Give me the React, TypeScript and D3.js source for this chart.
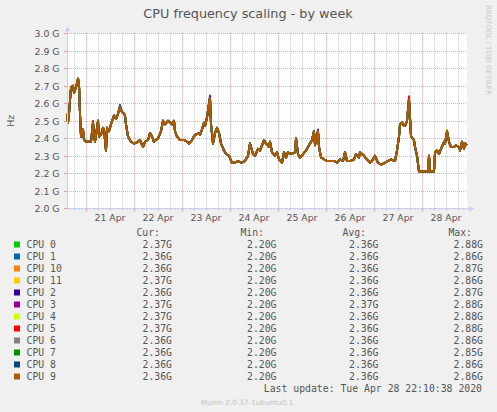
import * as d3 from "d3";

const WIDTH = 497;
const HEIGHT = 412;
const PLOT = { left: 67, top: 33.3, width: 400, height: 175 };

const cpuNames = ["CPU 0", "CPU 1", "CPU 10", "CPU 11", "CPU 2", "CPU 3", "CPU 4", "CPU 5", "CPU 6", "CPU 7", "CPU 8", "CPU 9"];
const cpuColors = ["#00CC00", "#0066B3", "#FF8000", "#FFCC00", "#330099", "#990099", "#CCFF00", "#FF0000", "#808080", "#008F00", "#00487D", "#B35A00"];
const curValues = ["2.37G", "2.36G", "2.36G", "2.37G", "2.36G", "2.37G", "2.37G", "2.37G", "2.36G", "2.36G", "2.36G", "2.36G"];
const minValues = ["2.20G", "2.20G", "2.20G", "2.20G", "2.20G", "2.20G", "2.20G", "2.20G", "2.20G", "2.20G", "2.20G", "2.20G"];
const avgValues = ["2.36G", "2.36G", "2.36G", "2.36G", "2.36G", "2.37G", "2.36G", "2.36G", "2.36G", "2.36G", "2.36G", "2.36G"];
const maxValues = ["2.88G", "2.86G", "2.87G", "2.86G", "2.87G", "2.88G", "2.88G", "2.88G", "2.86G", "2.85G", "2.86G", "2.86G"];

// hours since 21 Apr 00:00, and the shared frequency reading (GHz)
const sampleHours = [
  -9.5, -9, -8.5, -7.5, -6.5, -6, -5, -4, -3.5, -3, -2.5, -1.5, -1, 0, 1.5, 2.5, 3.5, 4, 4.5, 6,
  6.5, 7.5, 8.5, 9, 10, 10.5, 11.5, 12.5, 14, 15, 16, 17, 18, 19, 19.5, 20, 21, 22.5, 24, 26,
  27, 28.5, 29.5, 31, 32, 33, 34, 36, 37.5, 38.5, 39.5, 41, 43, 44, 44.5, 45.5, 47, 49, 50.5, 51.5,
  53, 54.5, 56.5, 57, 58, 59, 59.5, 60.5, 61.5, 62, 62.5, 63.5, 64.5, 65.5, 66.5, 67.5, 69, 70, 71.5, 73,
  74.5, 76, 77.5, 79.5, 81, 82, 83.5, 84.5, 86, 87, 89, 90, 91.5, 92, 93, 94.5, 95.5, 96.5, 98, 99,
  100, 101, 102.5, 104.5, 105, 106, 107, 108.5, 110, 111.5, 113, 114, 114.5, 116, 116.5, 117.5, 119, 120.5, 122, 124,
  125.5, 127, 128.5, 129.5, 130.5, 132, 134, 135, 136.5, 137, 139, 140.5, 142, 143, 144.5, 146, 147.5, 149.5, 151, 152.5,
  154.5, 155.5, 156.5, 157, 158, 159, 159.5, 160.5, 161.5, 162, 162.5, 164, 164.5, 165.5, 166.5, 168, 169.5, 171, 171.5, 172,
  173, 174, 174.5, 175.5, 176.5, 177.5, 179, 179.5, 180.5, 181.5, 182.5, 184, 185, 186.5, 187, 188, 189, 189.5, 190.5,
];
const sampleGHz = [
  2.54, 2.49, 2.54, 2.69, 2.7, 2.66, 2.69, 2.74, 2.71, 2.54, 2.41, 2.45, 2.39, 2.38, 2.38, 2.38, 2.49, 2.43, 2.38, 2.5,
  2.41, 2.42, 2.46, 2.45, 2.33, 2.46, 2.44, 2.48, 2.53, 2.51, 2.54, 2.58, 2.55, 2.54, 2.53, 2.48, 2.41, 2.38, 2.37, 2.38,
  2.39, 2.35, 2.38, 2.39, 2.43, 2.41, 2.38, 2.4, 2.44, 2.5, 2.48, 2.5, 2.48, 2.5, 2.44, 2.41, 2.39, 2.39, 2.38, 2.37,
  2.39, 2.42, 2.43, 2.42, 2.45, 2.49, 2.47, 2.52, 2.6, 2.63, 2.48, 2.37, 2.43, 2.46, 2.43, 2.37, 2.33, 2.31, 2.3, 2.26,
  2.26, 2.27, 2.26, 2.27, 2.3, 2.37, 2.31, 2.3, 2.34, 2.33, 2.39, 2.37, 2.35, 2.38, 2.32, 2.3, 2.32, 2.28, 2.26, 2.32,
  2.29, 2.32, 2.31, 2.32, 2.4, 2.31, 2.29, 2.31, 2.33, 2.36, 2.39, 2.44, 2.36, 2.44, 2.35, 2.29, 2.28, 2.27, 2.27, 2.27,
  2.26, 2.28, 2.27, 2.32, 2.27, 2.27, 2.28, 2.31, 2.29, 2.32, 2.3, 2.28, 2.26, 2.27, 2.3, 2.26, 2.25, 2.26, 2.27, 2.28,
  2.27, 2.33, 2.41, 2.48, 2.49, 2.47, 2.47, 2.5, 2.62, 2.52, 2.41, 2.39, 2.35, 2.3, 2.21, 2.21, 2.21, 2.21, 2.3, 2.21,
  2.21, 2.21, 2.32, 2.33, 2.31, 2.34, 2.38, 2.37, 2.44, 2.38, 2.35, 2.35, 2.36, 2.35, 2.33, 2.38, 2.34, 2.37, 2.36,
];
// a few samples where single cores poke out of the bundle: [cpu index, hour, GHz]
const cpuSpikes: [number, number, number][] = [
  [10, 17, 2.59], [7, 3.5, 2.5], [5, 62, 2.645], [7, 161.5, 2.64], [5, 161.5, 2.635],
  [3, 180.5, 2.45], [5, 116, 2.45], [0, 89, 2.38], [6, 174.5, 2.33],
];

const base = new Date(2020, 3, 21, 0, 0, 0);
const toDate = (h: number) => new Date(base.getTime() + h * 3600 * 1000);
const start = toDate(-9.5);
const end = toDate(190.5);

const xScale = d3.scaleTime().domain([start, end]).range([PLOT.left, PLOT.left + PLOT.width]);
const yScale = d3.scaleLinear().domain([2.0, 3.0]).range([PLOT.top + PLOT.height, PLOT.top]);

const sans = "DejaVu Sans, sans-serif";
const mono = "DejaVu Sans Mono, monospace";
const textColor = "#555";

export default function App() {
  const bottom = PLOT.top + PLOT.height;
  const right = PLOT.left + PLOT.width;
  const yTicks = d3.range(0, 11).map((i) => 2.0 + i / 10);
  const minor = d3.timeHour.every(6)!.range(start, end);
  const major = d3.timeDay.range(start, end);
  const labels = major.map((d) => d3.timeHour.offset(d, 12)).filter((d) => d < end);
  const fmt = d3.timeFormat("%d %b");

  const line = d3
    .line<[number, number]>()
    .x((d) => xScale(toDate(d[0])))
    .y((d) => yScale(d[1]));

  const seriesFor = (ci: number) =>
    sampleHours.map((h, i) => {
      const s = cpuSpikes.find((p) => p[0] === ci && p[1] === h);
      return [h, s ? s[2] : sampleGHz[i]] as [number, number];
    });

  const rowY = (i: number) => 244.5 + i * 12;

  return (
    <svg
      width={WIDTH}
      height={HEIGHT}
      style={{ position: "absolute", left: 0, top: 0, background: "#F0F0F0" }}
    >
      <rect x={0} y={0} width={WIDTH} height={HEIGHT} fill="#F0F0F0" />
      <text x={248} y={17.5} textAnchor="middle" fontFamily={sans} fontSize={12.8} fill="#555">
        CPU frequency scaling - by week
      </text>
      <text
        transform="translate(486,5) rotate(90)"
        fontFamily={sans}
        fontSize={7}
        fill="#C8C8C8"
      >
        RRDTOOL / TOBI OETIKER
      </text>
      <text
        transform={`translate(14,${PLOT.top + PLOT.height / 2}) rotate(-90)`}
        textAnchor="middle"
        fontFamily={sans}
        fontSize={9.5}
        fill={textColor}
      >
        Hz
      </text>

      <rect x={PLOT.left} y={PLOT.top} width={PLOT.width} height={PLOT.height} fill="#FFFFFF" />

      {/* minor grid */}
      {minor.map((d, i) => {
        const x = Math.round(xScale(d)) + 0.5;
        return (
          <g key={`mn${i}`}>
            <line x1={x} x2={x} y1={PLOT.top} y2={bottom} stroke="#C4C4C4" strokeDasharray="1,1" />
            <line x1={x} x2={x} y1={bottom} y2={bottom + 2} stroke="#B8B8B8" />
          </g>
        );
      })}
      {/* major grid */}
      {major.map((d, i) => {
        const x = Math.round(xScale(d)) + 0.5;
        return (
          <g key={`mj${i}`}>
            <line x1={x} x2={x} y1={PLOT.top} y2={bottom} stroke="#F0A8A8" strokeDasharray="1,1" />
            <line x1={x} x2={x} y1={bottom} y2={bottom + 3} stroke="#E89898" />
          </g>
        );
      })}
      {yTicks.map((v, i) => {
        const y = Math.round(yScale(v)) + 0.5;
        return (
          <g key={`y${i}`}>
            <line x1={PLOT.left} x2={right} y1={y} y2={y} stroke="#F0A8A8" strokeDasharray="1,1" />
            <line x1={PLOT.left - 3} x2={PLOT.left} y1={y} y2={y} stroke="#E89898" />
            <text
              x={59.5}
              y={y + 3.4}
              textAnchor="end"
              fontFamily={sans}
              fontSize={9.3}
              fill={textColor}
            >
              {`${v.toFixed(1)} G`}
            </text>
          </g>
        );
      })}
      {labels.map((d, i) => (
        <text
          key={`xl${i}`}
          x={xScale(d)}
          y={220.5}
          textAnchor="middle"
          fontFamily={sans}
          fontSize={9.3}
          fill={textColor}
        >
          {fmt(d)}
        </text>
      ))}

      {/* data */}
      {cpuNames.map((name, ci) => (
        <path
          key={name}
          d={line(seriesFor(ci)) || ""}
          fill="none"
          stroke={cpuColors[ci]}
          strokeWidth={1.9}
          strokeLinejoin="round"
        />
      ))}

      {/* axes */}
      <line x1={PLOT.left + 0.5} x2={PLOT.left + 0.5} y1={bottom} y2={PLOT.top - 4} stroke="#C8CCF8" />
      <path
        d={`M${PLOT.left - 2},${PLOT.top - 2} L${PLOT.left + 3},${PLOT.top - 2} L${PLOT.left + 0.5},${PLOT.top - 7} Z`}
        fill="#C8CCF8"
      />
      <line x1={PLOT.left} x2={right + 4} y1={bottom + 0.5} y2={bottom + 0.5} stroke="#C8CCF8" />
      <path
        d={`M${right + 2},${bottom - 2} L${right + 2},${bottom + 3} L${right + 7},${bottom + 0.5} Z`}
        fill="#C8CCF8"
      />

      {/* legend */}
      <g fontFamily={mono} fontSize={9.8} fill={textColor}>
        <text x={160} y={rowY(-1) + 3.5} textAnchor="end">Cur:</text>
        <text x={264} y={rowY(-1) + 3.5} textAnchor="end">Min:</text>
        <text x={366} y={rowY(-1) + 3.5} textAnchor="end">Avg:</text>
        <text x={472} y={rowY(-1) + 3.5} textAnchor="end">Max:</text>
        {cpuNames.map((name, i) => (
          <g key={`lg${name}`}>
            <rect x={14} y={rowY(i) - 3} width={6} height={6} fill={cpuColors[i]} />
            <text x={26.5} y={rowY(i) + 3.5}>{name}</text>
            <text x={172} y={rowY(i) + 3.5} textAnchor="end">{curValues[i]}</text>
            <text x={276.5} y={rowY(i) + 3.5} textAnchor="end">{minValues[i]}</text>
            <text x={378.5} y={rowY(i) + 3.5} textAnchor="end">{avgValues[i]}</text>
            <text x={483} y={rowY(i) + 3.5} textAnchor="end">{maxValues[i]}</text>
          </g>
        ))}
        <text x={482} y={rowY(12) + 3.5} textAnchor="end">
          Last update: Tue Apr 28 22:10:38 2020
        </text>
      </g>
      <text x={247} y={404.5} textAnchor="middle" fontFamily={sans} fontSize={7.3} fill="#C4C4C4">
        Munin 2.0.37-1ubuntu0.1
      </text>
    </svg>
  );
}
